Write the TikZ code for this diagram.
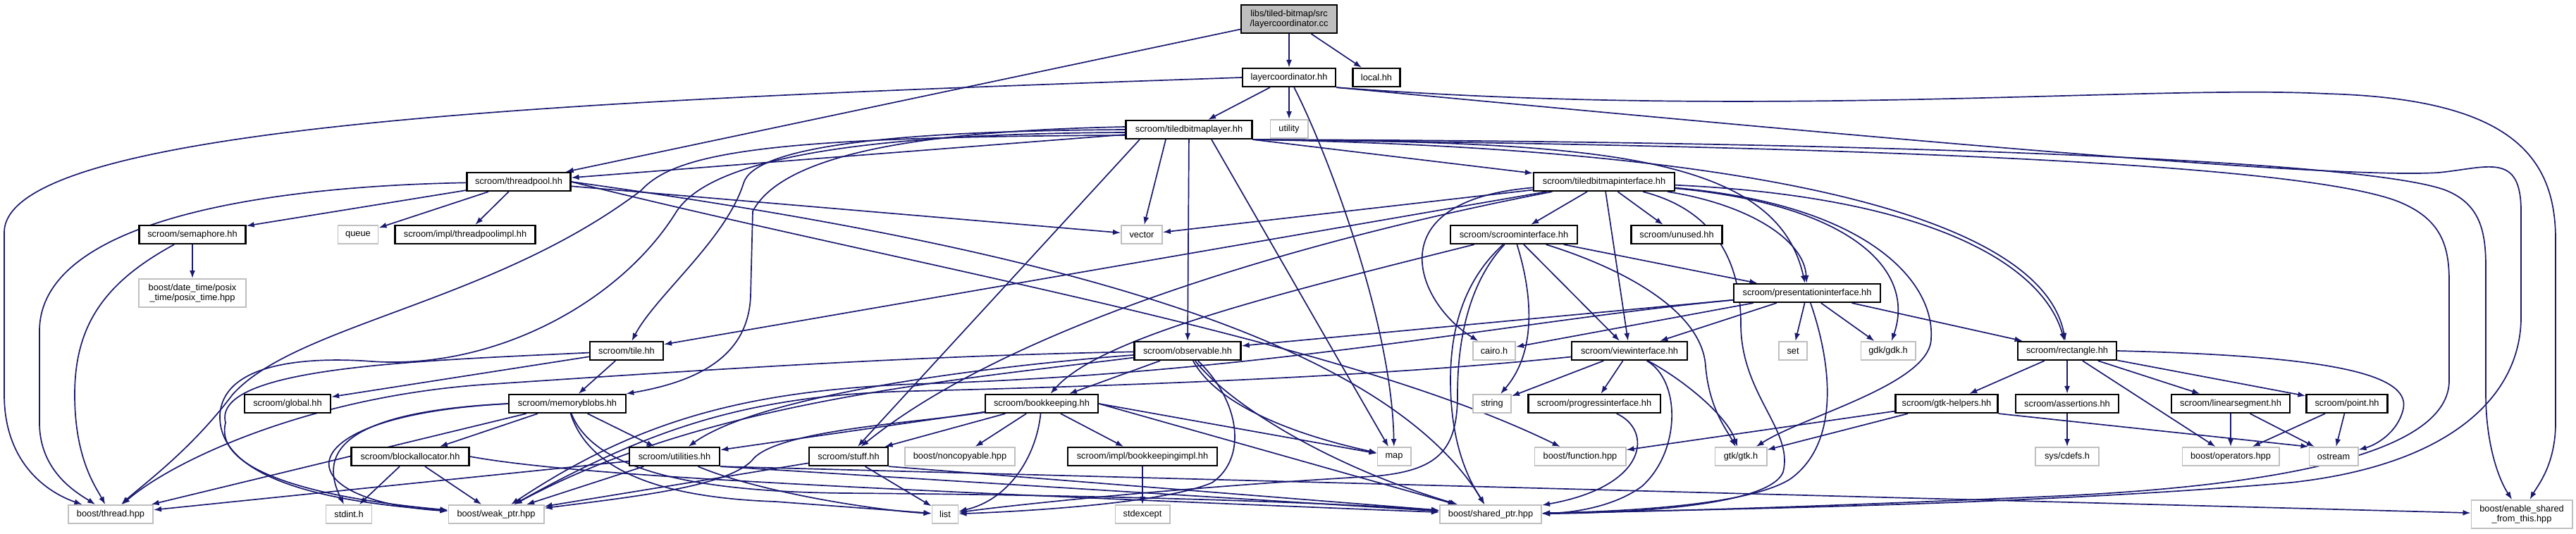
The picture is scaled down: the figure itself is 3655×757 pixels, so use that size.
\documentclass[tikz,border=0pt]{standalone}
\usepackage{fontspec}
\setmainfont{Liberation Sans}
\usetikzlibrary{arrows.meta,calc,backgrounds}
\definecolor{edgeblue}{RGB}{25,25,112}
\definecolor{extgray}{RGB}{191,191,191}

\begin{document}
\begin{tikzpicture}[x=0.01cm, y=-0.01cm, font=\fontsize{3.64}{4.1}\selectfont,
	hdr/.style={shape=rectangle, draw=black, line width=0.62pt, fill=white, minimum height=0.26cm, inner xsep=2pt, inner ysep=0.5pt, align=center},
	ext/.style={hdr, draw=extgray, line width=0.55pt},
	dep/.style={draw=edgeblue, line width=0.48pt, -{Latex[length=1.1mm, width=0.8mm]}}]
	\useasboundingbox (0,0) rectangle (3655,757);
	% Nodes:
	\node[hdr, fill=extgray, minimum width=1.36cm, minimum height=0.40cm] (root) at (1829, 27){libs/tiled-bitmap/src\\/layercoordinator.cc};
	\node[hdr, minimum width=1.32cm] (lch) at (1829, 110){layercoordinator.hh};
	\node[hdr, minimum width=0.67cm] (local) at (1953, 110){local.hh};
	\node[ext, minimum width=0.53cm] (utility) at (1829, 183){utility};
	\node[hdr, minimum width=1.79cm] (tbl) at (1687, 184){scroom/tiledbitmaplayer.hh};
	\node[hdr, minimum width=1.47cm] (tp) at (736, 258){scroom/threadpool.hh};
	\node[hdr, minimum width=2.00cm] (tbi) at (2276, 258){scroom/tiledbitmapinterface.hh};
	\node[hdr, minimum width=1.51cm] (sem) at (273, 333){scroom/semaphore.hh};
	\node[ext, minimum width=0.57cm] (queue) at (508, 333){queue};
	\node[hdr, minimum width=1.99cm] (tpi) at (660, 333){scroom/impl/threadpoolimpl.hh};
	\node[ext, minimum width=0.58cm] (vector) at (1620, 333){vector};
	\node[hdr, minimum width=1.80cm] (si) at (2148, 333){scroom/scroominterface.hh};
	\node[hdr, minimum width=1.29cm] (unused) at (2379, 333){scroom/unused.hh};
	\node[ext, minimum width=1.51cm, minimum height=0.40cm] (posix) at (273, 416){boost/date\_time/posix\\\_time/posix\_time.hpp};
	\node[hdr, minimum width=2.08cm] (pi) at (2564, 416){scroom/presentationinterface.hh};
	\node[hdr, minimum width=1.04cm] (tile) at (889, 498){scroom/tile.hh};
	\node[hdr, minimum width=1.51cm] (obs) at (1685, 498){scroom/observable.hh};
	\node[ext, minimum width=0.60cm] (cairo) at (2120, 498){cairo.h};
	\node[hdr, minimum width=1.64cm] (vi) at (2312, 498){scroom/viewinterface.hh};
	\node[ext, minimum width=0.40cm] (set) at (2544, 498){set};
	\node[ext, minimum width=0.77cm] (gdk) at (2679, 498){gdk/gdk.h};
	\node[hdr, minimum width=1.40cm] (rect) at (2933, 498){scroom/rectangle.hh};
	\node[hdr, minimum width=1.22cm] (global) at (408, 573){scroom/global.hh};
	\node[hdr, minimum width=1.66cm] (mb) at (805, 573){scroom/memoryblobs.hh};
	\node[hdr, minimum width=1.60cm] (bk) at (1478, 573){scroom/bookkeeping.hh};
	\node[ext, minimum width=0.54cm] (string) at (2117, 573){string};
	\node[hdr, minimum width=1.87cm] (progress) at (2262, 573){scroom/progressinterface.hh};
	\node[hdr, minimum width=1.45cm] (gtkh) at (2762, 573){scroom/gtk-helpers.hh};
	\node[hdr, minimum width=1.46cm] (assert) at (2933, 573){scroom/assertions.hh};
	\node[hdr, minimum width=1.68cm] (lseg) at (3165, 573){scroom/linearsegment.hh};
	\node[hdr, minimum width=1.15cm] (point) at (3330, 573){scroom/point.hh};
	\node[hdr, minimum width=1.67cm] (ba) at (582, 648){scroom/blockallocator.hh};
	\node[hdr, minimum width=1.28cm] (util) at (957, 648){scroom/utilities.hh};
	\node[hdr, minimum width=1.12cm] (stuff) at (1204, 648){scroom/stuff.hh};
	\node[ext, minimum width=1.56cm] (noncopy) at (1362, 648){boost/noncopyable.hpp};
	\node[hdr, minimum width=2.12cm] (bki) at (1621, 648){scroom/impl/bookkeepingimpl.hh};
	\node[ext, minimum width=0.47cm] (map) at (1978, 648){map};
	\node[ext, minimum width=1.29cm] (function) at (2242, 648){boost/function.hpp};
	\node[ext, minimum width=0.73cm] (gtk) at (2470, 648){gtk/gtk.h};
	\node[ext, minimum width=0.90cm] (cdefs) at (2933, 648){sys/cdefs.h};
	\node[ext, minimum width=1.37cm] (operators) at (3165, 648){boost/operators.hpp};
	\node[ext, minimum width=0.69cm] (ostream) at (3311, 648){ostream};
	\node[ext, minimum width=1.20cm] (thread) at (157, 730){boost/thread.hpp};
	\node[ext, minimum width=0.65cm] (stdint) at (495, 730){stdint.h};
	\node[ext, minimum width=1.35cm] (weak) at (704, 730){boost/weak\_ptr.hpp};
	\node[ext, minimum width=0.37cm] (list) at (1341, 730){list};
	\node[ext, minimum width=0.77cm] (stdexcept) at (1621, 730){stdexcept};
	\node[ext, minimum width=1.44cm] (shared) at (2115, 730){boost/shared\_ptr.hpp};
	\node[ext, minimum width=1.43cm, minimum height=0.40cm] (enable) at (3578, 730){boost/enable\_shared\\\_from\_this.hpp};
	% Wires:
	\begin{scope}[on background layer]
	\draw[dep] (root) -- (lch);
	\draw[dep] (root) -- (local);
	\draw[dep] (root) -- (tp);
	\draw[dep] (lch) -- (tbl);
	\draw[dep] (lch) -- (utility);
	\draw[dep] (lch) .. controls (1885,220) and (1975,460) .. (map);
	\draw[dep] (lch.west) .. controls (900,140) and (6,170) .. (6,330) -- (6,560) .. controls (6,660) and (70,700) .. (thread);
	\draw[dep] (lch.south east) .. controls (2500,170) and (3050,120) .. (3300,133) .. controls (3560,140) and (3626,220) .. (3626,340) -- (3626,600) .. controls (3626,660) and (3600,690) .. (enable);
	\draw[dep] (lch.south east) .. controls (2600,190) and (3300,255) .. (3460,245) .. controls (3530,238) and (3577,215) .. (3577,300) -- (3577,450) .. controls (3577,560) and (3480,660) .. (3250,685) .. controls (2900,715) and (2500,722) .. (shared);
	\draw[dep] (tbl.south east) -- (tbi);
	\draw[dep] (tbl) -- (tp);
	\draw[dep] (tbl.south east) .. controls (2250,202) and (2520,215) .. (pi);
	\draw[dep] (tbl.south east) .. controls (2550,212) and (2900,320) .. (rect);
	\draw[dep] (tbl.south east) .. controls (2600,207) and (3250,230) .. (3400,285) .. controls (3465,310) and (3475,350) .. (3475,400) -- (3475,540) .. controls (3475,640) and (3250,690) .. (2900,705) .. controls (2600,718) and (2400,725) .. (shared);
	\draw[dep] (tbl.south east) .. controls (2600,200) and (3350,225) .. (3470,270) .. controls (3520,290) and (3527,330) .. (3527,380) -- (3527,560) .. controls (3527,630) and (3545,680) .. (enable);
	\draw[dep] ($(tbl.south)+(-70,0)$) -- (stuff);
	\draw[dep] ($(tbl.south)+(-33,0)$) -- (vector);
	\draw[dep] (tbl) -- (obs);
	\draw[dep] ($(tbl.south)+(32,0)$) -- (map);
	\draw[dep] ($(tbl.west)+(0,8)$) .. controls (1100,194) and (960,215) .. (910,270) .. controls (700,430) and (420,460) .. (330,560) .. controls (270,640) and (200,690) .. (thread);
	\draw[dep] ($(tbl.west)+(0,4)$) .. controls (1150,190) and (1000,240) .. (960,300) .. controls (880,430) and (700,525) .. (528,513) .. controls (420,505) and (315,520) .. (312,590) .. controls (310,690) and (500,715) .. (weak);
	\draw[dep] (tbl.west) .. controls (1250,186) and (1070,210) .. (1055,260) .. controls (1030,340) and (930,420) .. (tile);
	\draw[dep] ($(tbl.west)+(0,-4)$) .. controls (1300,186) and (1110,220) .. (1068,300) -- (1065,420) .. controls (1062,500) and (1000,540) .. (mb);
	\draw[dep] (tp) -- (sem);
	\draw[dep] (tp) -- (queue);
	\draw[dep] (tp) -- (tpi);
	\draw[dep] (tp) -- (vector);
	\draw[dep] (tp) .. controls (350,265) and (56,320) .. (56,470) -- (56,600) .. controls (56,670) and (110,700) .. (thread);
	\draw[dep] (tp.east) .. controls (1300,380) and (1900,480) .. (function);
	\draw[dep] (tp.east) .. controls (1400,340) and (1950,460) .. (shared);
	\draw[dep] (sem) -- (posix);
	\draw[dep] (sem) .. controls (150,400) and (106,460) .. (106,560) .. controls (106,650) and (135,690) .. (thread);
	\draw[dep] (tbi) -- (vector);
	\draw[dep] (tbi) -- (si);
	\draw[dep] (tbi) -- (unused);
	\draw[dep] (tbi) -- (vi);
	\draw[dep] (tbi) -- (tile);
	\draw[dep] (tbi) .. controls (1950,285) and (2010,430) .. (cairo);
	\draw[dep] (tbi) .. controls (2480,290) and (2560,340) .. (pi);
	\draw[dep] (tbi) .. controls (2620,290) and (2720,380) .. (gdk);
	\draw[dep] (tbi) .. controls (2750,280) and (2900,380) .. (rect);
	\draw[dep] (tbi) .. controls (2650,290) and (2745,400) .. (2740,480) .. controls (2740,545) and (2560,590) .. (gtk);
	\draw[dep] (tbi) .. controls (2440,300) and (2470,380) .. (2470,460) .. controls (2470,560) and (2545,610) .. (2530,670) .. controls (2510,720) and (2300,728) .. (shared);
	\draw[dep] (tbi) .. controls (1900,330) and (1450,450) .. (stuff);
	\draw[dep] (si) -- (vi);
	\draw[dep] (si) -- (pi);
	\draw[dep] (si) .. controls (1800,420) and (1560,480) .. (bk);
	\draw[dep] (si) .. controls (2175,420) and (2180,500) .. (string);
	\draw[dep] (si) .. controls (2300,380) and (2415,440) .. (2420,520) .. controls (2425,580) and (2450,610) .. (gtk);
	\draw[dep] (si) .. controls (2075,400) and (2058,470) .. (2058,540) .. controls (2058,640) and (2090,690) .. (shared);
	\draw[dep] (si) .. controls (2085,400) and (2068,480) .. (2068,560) .. controls (2068,640) and (2040,668) .. (1950,676) .. controls (1700,690) and (1450,715) .. (list);
	\draw[dep] (pi) -- (obs);
	\draw[dep] (pi) -- (cairo);
	\draw[dep] (pi) -- (vi);
	\draw[dep] (pi) -- (set);
	\draw[dep] (pi) -- (gdk);
	\draw[dep] (pi) -- (rect);
	\draw[dep] (pi) .. controls (2600,520) and (2610,630) .. (2540,680) .. controls (2480,718) and (2300,726) .. (shared);
	\draw[dep] (pi) .. controls (2150,455) and (1800,530) .. (1300,545) .. controls (1050,555) and (900,600) .. (weak);
	\draw[dep] (vi) -- (string);
	\draw[dep] (vi) -- (progress);
	\draw[dep] (vi) .. controls (2390,540) and (2450,590) .. (gtk);
	\draw[dep] (vi) .. controls (2385,540) and (2385,640) .. (2330,690) .. controls (2290,720) and (2230,728) .. (shared);
	\draw[dep] (vi) .. controls (2000,530) and (1700,545) .. (1300,555) .. controls (1060,560) and (920,610) .. (weak);
	\draw[dep] (progress) .. controls (2345,610) and (2340,690) .. (shared);
	\draw[dep] (obs) -- (bk);
	\draw[dep] (obs) .. controls (1300,505) and (1000,525) .. (700,545) .. controls (450,560) and (250,650) .. (thread);
	\draw[dep] (obs) .. controls (1350,540) and (1000,570) .. (weak);
	\draw[dep] (obs) .. controls (1400,520) and (1080,560) .. (util);
	\draw[dep] (obs) .. controls (1760,570) and (1770,650) .. (1720,685) .. controls (1650,715) and (1450,726) .. (list);
	\draw[dep] (obs) .. controls (1730,580) and (1850,620) .. (map);
	\draw[dep] (obs) .. controls (1740,570) and (1880,660) .. (shared);
	\draw[dep] (bk) -- (util);
	\draw[dep] (bk) -- (stuff);
	\draw[dep] (bk) -- (noncopy);
	\draw[dep] (bk) -- (bki);
	\draw[dep] (bk) .. controls (1470,650) and (1430,710) .. (list);
	\draw[dep] (bk.east) -- (map);
	\draw[dep] (bk.east) -- (shared);
	\draw[dep] (bk) .. controls (1300,600) and (1110,610) .. (1070,650) .. controls (1040,690) and (900,705) .. (weak);
	\draw[dep] (util) -- (thread);
	\draw[dep] (util) -- (weak);
	\draw[dep] (util) .. controls (1080,700) and (1250,725) .. (list);
	\draw[dep] (util.south east) -- (shared);
	\draw[dep] (util.south east) -- (enable);
	\draw[dep] (stuff) -- (list);
	\draw[dep] (stuff) -- (weak);
	\draw[dep] (stuff.south east) -- (shared);
	\draw[dep] (mb) -- (ba);
	\draw[dep] (mb) -- (util);
	\draw[dep] (mb) -- (thread);
	\draw[dep] (mb.west) .. controls (470,585) and (455,650) .. (stdint);
	\draw[dep] (mb.west) .. controls (400,590) and (400,710) .. (weak);
	\draw[dep] (mb) .. controls (830,650) and (900,705) .. (1100,712) -- (list);
	\draw[dep] (mb) .. controls (840,660) and (960,698) .. (1200,700) .. controls (1600,703) and (1900,714) .. (shared);
	\draw[dep] (ba) -- (stdint);
	\draw[dep] (ba) -- (weak);
	\draw[dep] (ba.east) .. controls (800,672) and (1100,690) .. (shared);
	\draw[dep] (tile) -- (global);
	\draw[dep] (tile) -- (mb);
	\draw[dep] (tile) .. controls (600,512) and (300,520) .. (320,600) .. controls (300,680) and (500,712) .. (weak);
	\draw[dep] (gtkh) -- (gtk);
	\draw[dep] (gtkh) -- (function);
	\draw[dep] (gtkh.south east) -- (ostream.north west);
	\draw[dep] (rect) -- (gtkh);
	\draw[dep] (rect) -- (assert);
	\draw[dep] (rect) -- (operators);
	\draw[dep] (rect) -- (lseg);
	\draw[dep] (rect) -- (point);
	\draw[dep] (rect.east) .. controls (3300,505) and (3420,530) .. (3410,580) .. controls (3402,615) and (3370,632) .. (ostream);
	\draw[dep] (assert) -- (cdefs);
	\draw[dep] (lseg) -- (operators);
	\draw[dep] (lseg) -- (ostream);
	\draw[dep] (point) -- (operators);
	\draw[dep] (point) -- (ostream);
	\draw[dep] (bki) -- (stdexcept);
	\end{scope}
\end{tikzpicture}
\end{document}
